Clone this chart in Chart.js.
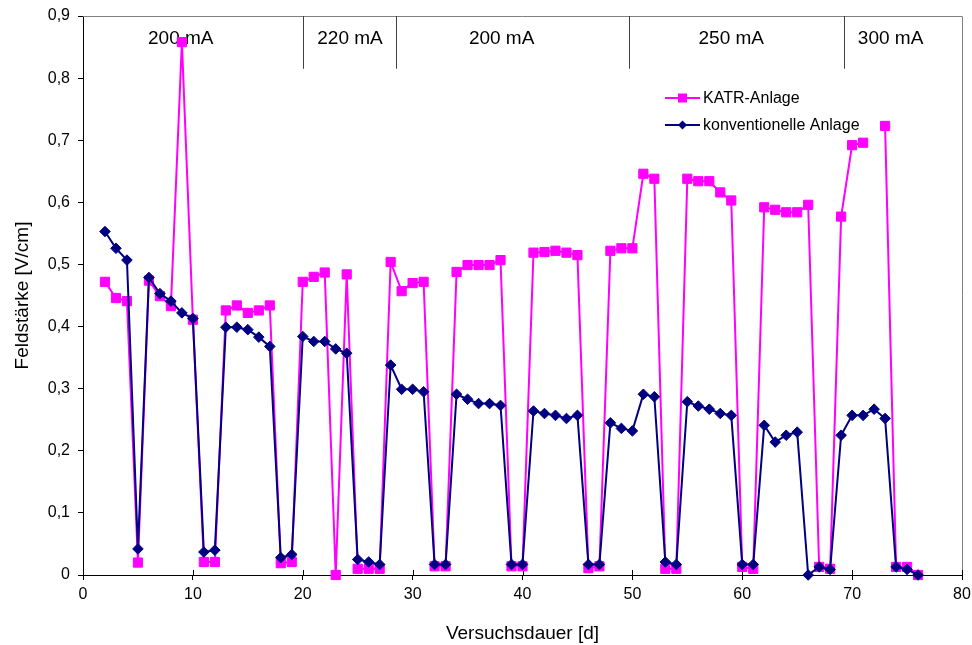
<!DOCTYPE html>
<html>
<head>
<meta charset="utf-8">
<script src="https://cdn.jsdelivr.net/npm/chart.js@4.4.1/dist/chart.umd.min.js"></script>
<style>
  html, body { margin: 0; padding: 0; background: #fff; }
  #wrap { width: 972px; height: 645px; position: relative; }
</style>
</head>
<body>
<div id="wrap"><canvas id="c" width="972" height="645"></canvas></div>
<script>
// ---- data ----
const days = [2,3,4,5,6,7,8,9,10,11,12,13,14,15,16,17,18,19,20,21,22,23,24,25,26,27,28,29,30,31,32,33,34,35,36,37,38,39,40,41,42,43,44,45,46,47,48,49,50,51,52,53,54,55,56,57,58,59,60,61,62,63,64,65,66,67,68,69,70,71,72,73,74,75,76];
const katr = [0.472,0.446,0.441,0.020,0.474,0.449,0.433,0.858,0.411,0.021,0.021,0.426,0.434,0.422,0.426,0.434,0.019,0.021,0.472,0.480,0.487,0.0,0.484,0.010,0.010,0.010,0.504,0.457,0.470,0.472,0.014,0.014,0.488,0.499,0.499,0.499,0.507,0.014,0.014,0.519,0.520,0.522,0.519,0.515,0.011,0.014,0.522,0.526,0.526,0.646,0.638,0.010,0.010,0.638,0.634,0.634,0.616,0.603,0.013,0.010,0.592,0.588,0.584,0.584,0.596,0.013,0.010,0.577,0.692,0.696,null,0.723,0.013,0.013,0.0];
const konv = [0.553,0.526,0.507,0.042,0.479,0.453,0.441,0.422,0.413,0.037,0.040,0.399,0.399,0.395,0.383,0.368,0.028,0.033,0.384,0.376,0.376,0.364,0.357,0.025,0.021,0.017,0.338,0.299,0.299,0.295,0.017,0.017,0.291,0.283,0.276,0.276,0.273,0.017,0.017,0.264,0.260,0.257,0.252,0.257,0.017,0.017,0.245,0.236,0.232,0.291,0.287,0.021,0.017,0.279,0.272,0.267,0.260,0.257,0.017,0.017,0.241,0.214,0.225,0.230,0.0,0.013,0.009,0.225,0.257,0.257,0.267,0.252,0.013,0.009,0.0];
const seriesNames = ['KATR-Anlage', 'konventionelle Anlage'];
const xTicks = [0,10,20,30,40,50,60,70,80];
const yTicks = [0,0.1,0.2,0.3,0.4,0.5,0.6,0.7,0.8,0.9];
const bandEdges = [20, 28.5, 49.7, 69.3];
const bandLabels = ['200 mA','220 mA','200 mA','250 mA','300 mA'];
const bandLabelX = [8.9, 24.3, 38.1, 59.0, 73.5];
const bandLabelY = 0.855;
const bandLineBottom = 0.815;
const xTitle = 'Versuchsdauer [d]';
const yTitle = 'Feldstärke [V/cm]';

const MAGENTA = '#FF00FF';
const NAVY = '#000080';
const FONT = "'Liberation Sans', Arial, sans-serif";

const toPts = (vals) => days.map((d, i) => ({x: d, y: vals[i]}));

const decor = {
  id: 'decor',
  beforeDatasetsDraw(chart) {
    const {ctx, chartArea: a, scales: {x, y}} = chart;
    ctx.save();
    // top and right frame
    ctx.strokeStyle = '#808080';
    ctx.lineWidth = 1;
    ctx.beginPath();
    ctx.moveTo(a.left, a.top + 0.5);
    ctx.lineTo(a.right + 0.5, a.top + 0.5);
    ctx.lineTo(a.right + 0.5, a.bottom);
    ctx.stroke();
    // band separators
    ctx.strokeStyle = '#404040';
    bandEdges.forEach(v => {
      const px = Math.round(x.getPixelForValue(v)) + 0.5;
      ctx.beginPath();
      ctx.moveTo(px, y.getPixelForValue(0.9));
      ctx.lineTo(px, y.getPixelForValue(bandLineBottom));
      ctx.stroke();
    });
    // band labels
    ctx.fillStyle = '#000';
    ctx.font = '19px ' + FONT;
    ctx.textAlign = 'center';
    ctx.textBaseline = 'alphabetic';
    bandLabels.forEach((t, i) => {
      ctx.fillText(t, x.getPixelForValue(bandLabelX[i]), y.getPixelForValue(bandLabelY));
    });
    // x ticks crossing upward
    ctx.strokeStyle = '#000';
    xTicks.forEach(v => {
      const px = Math.round(x.getPixelForValue(v)) + 0.5;
      ctx.beginPath();
      ctx.moveTo(px, a.bottom - 5);
      ctx.lineTo(px, a.bottom);
      ctx.stroke();
    });
    ctx.restore();
  },
  afterDraw(chart) {
    const ctx = chart.ctx;
    ctx.save();
    const items = [
      {name: seriesNames[0], color: MAGENTA, style: 'rect', y: 98},
      {name: seriesNames[1], color: NAVY, style: 'diamond', y: 125}
    ];
    ctx.font = '16px ' + FONT;
    ctx.textBaseline = 'middle';
    ctx.textAlign = 'left';
    items.forEach(it => {
      ctx.strokeStyle = it.color;
      ctx.fillStyle = it.color;
      ctx.lineWidth = 2;
      ctx.beginPath();
      ctx.moveTo(665, it.y);
      ctx.lineTo(700, it.y);
      ctx.stroke();
      const cx = 682.5;
      if (it.style === 'rect') {
        ctx.fillRect(cx - 4.5, it.y - 4.5, 9, 9);
      } else {
        ctx.beginPath();
        ctx.moveTo(cx, it.y - 4.5);
        ctx.lineTo(cx + 4.5, it.y);
        ctx.lineTo(cx, it.y + 4.5);
        ctx.lineTo(cx - 4.5, it.y);
        ctx.closePath();
        ctx.fill();
      }
      ctx.fillStyle = '#000';
      ctx.fillText(it.name, 703, it.y + 1);
    });
    ctx.restore();
  }
};

new Chart(document.getElementById('c'), {
  type: 'line',
  data: {
    datasets: [
      {
        label: seriesNames[0],
        data: toPts(katr),
        borderColor: MAGENTA,
        backgroundColor: MAGENTA,
        borderWidth: 2,
        pointStyle: 'rect',
        pointRadius: 6.5,
        pointBorderWidth: 1,
        pointBackgroundColor: MAGENTA,
        pointBorderColor: MAGENTA,
        spanGaps: false,
        tension: 0,
        clip: false,
        order: 2
      },
      {
        label: seriesNames[1],
        data: toPts(konv),
        borderColor: NAVY,
        backgroundColor: NAVY,
        borderWidth: 2,
        pointStyle: 'rectRot',
        pointRadius: 5.3,
        pointBorderWidth: 1,
        pointBackgroundColor: NAVY,
        pointBorderColor: NAVY,
        tension: 0,
        clip: false,
        order: 1
      }
    ]
  },
  options: {
    responsive: false,
    animation: false,
    events: [],
    layout: { padding: { left: 7, right: 10, top: 16, bottom: 0 } },
    plugins: { legend: { display: false }, tooltip: { enabled: false } },
    scales: {
      x: {
        type: 'linear',
        min: 0, max: 80,
        afterFit: (s) => { s.height = 70; s.paddingLeft = 0; s.paddingRight = 0; },
        afterBuildTicks: (s) => { s.ticks = xTicks.map(v => ({value: v})); },
        ticks: {
          color: '#000',
          font: { family: FONT, size: 16 },
          padding: 5,
          maxRotation: 0,
          callback: (v) => String(v)
        },
        grid: { drawOnChartArea: false, drawTicks: true, tickLength: 5, color: '#000' },
        border: { display: true, color: '#000', width: 1 },
        title: {
          display: true, text: xTitle, color: '#000',
          font: { family: FONT, size: 19 },
          padding: { top: 0, bottom: 0 }
        }
      },
      y: {
        type: 'linear',
        min: 0, max: 0.9,
        afterFit: (s) => { s.width = 76; s.paddingTop = 0; s.paddingBottom = 0; },
        afterBuildTicks: (s) => { s.ticks = yTicks.map(v => ({value: v})); },
        ticks: {
          color: '#000',
          font: { family: FONT, size: 16 },
          padding: 8,
          callback: (v) => { const r = Math.round(v * 10) / 10; return r === 0 ? '0' : r.toFixed(1).replace('.', ','); }
        },
        grid: { drawOnChartArea: false, drawTicks: true, tickLength: 5, color: '#000' },
        border: { display: true, color: '#000', width: 1 },
        title: {
          display: true, text: yTitle, color: '#000',
          font: { family: FONT, size: 19 },
          padding: { top: 4, bottom: 4 }
        }
      }
    }
  },
  plugins: [decor]
});
</script>
</body>
</html>
